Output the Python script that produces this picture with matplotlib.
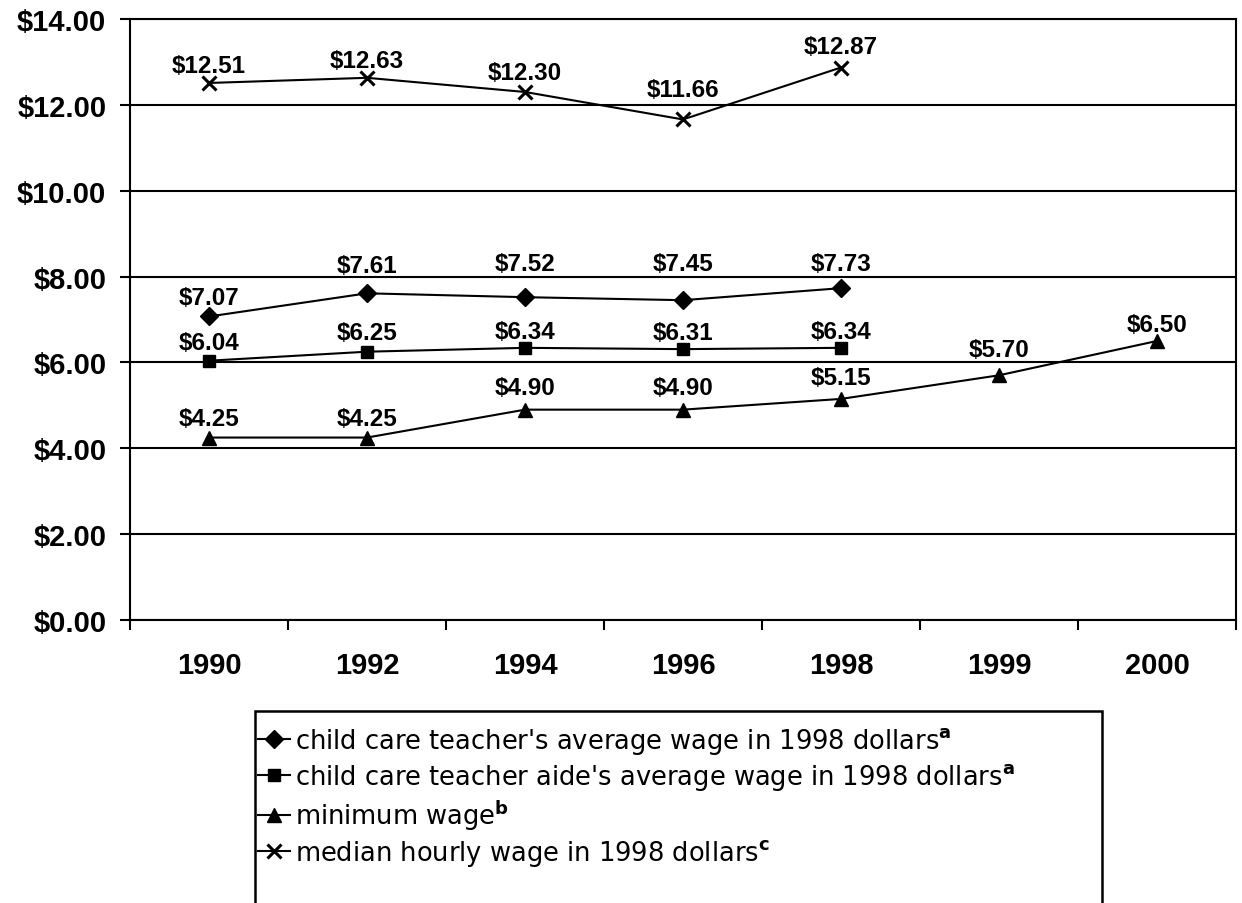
import numpy as np
import matplotlib
matplotlib.use('Agg')
import matplotlib.pyplot as plt
from matplotlib.patches import Rectangle
from matplotlib.ticker import FixedLocator

plt.rcParams['font.family'] = ['Liberation Sans', 'DejaVu Sans']
plt.rcParams['mathtext.fontset'] = 'custom'
plt.rcParams['mathtext.rm'] = 'DejaVu Sans'
plt.rcParams['mathtext.bf'] = 'DejaVu Sans:bold'

# data
years = ['1990', '1992', '1994', '1996', '1998', '1999', '2000']
teacher = [7.07, 7.61, 7.52, 7.45, 7.73, np.nan, np.nan]
aide = [6.04, 6.25, 6.34, 6.31, 6.34, np.nan, np.nan]
min_wage = [4.25, 4.25, 4.90, 4.90, 5.15, 5.70, 6.50]
median = [12.51, 12.63, 12.30, 11.66, 12.87, np.nan, np.nan]
yticks = [0, 2, 4, 6, 8, 10, 12, 14]

# label offsets above each point (pixels)
off_teacher = [12, 21, 27, 30, 18]
off_aide = [12, 13, 10, 10, 10]
off_min = [13, 13, 16, 16, 15, 19, 10]
off_median = [11, 11, 13, 23, 15]

fig = plt.figure(figsize=(12.42, 9.04), dpi=100)
ax = fig.add_axes([130/1242, 1 - 621/904, (1236 - 130)/1242, (621 - 20)/904])

x = np.arange(len(years))
series = [
    (teacher, 'D', 9, off_teacher, "child care teacher's average wage in 1998 dollars" + r'$^{\mathbf{a}}$'),
    (aide, 's', 8.5, off_aide, "child care teacher aide's average wage in 1998 dollars" + r'$^{\mathbf{a}}$'),
    (min_wage, '^', 10, off_min, 'minimum wage' + r'$^{\mathbf{b}}$'),
    (median, 'x', 10, off_median, 'median hourly wage in 1998 dollars' + r'$^{\mathbf{c}}$'),
]
handles = []
for vals, mk, ms, offs, lab in series:
    h, = ax.plot(x, vals, color='black', lw=1.5, marker=mk, ms=ms, mew=2.2 if mk == 'x' else 1,
                 label=lab, zorder=3)
    handles.append(h)
    for i, v in enumerate(vals):
        if np.isnan(v):
            continue
        ax.annotate(f'${v:.2f}', (x[i], v), xytext=(0, offs[i]), textcoords='offset pixels',
                    ha='center', va='baseline', fontsize=17.5, fontweight='bold')

ax.set_xlim(-0.5, len(years) - 0.5)
ax.set_ylim(0, 14)
ax.set_yticks(yticks)
ax.set_yticklabels([f'${t:.2f}' for t in yticks], fontsize=21, fontweight='bold')
ax.set_xticks(x)
ax.set_xticklabels(years, fontsize=21, fontweight='bold')
ax.xaxis.set_minor_locator(FixedLocator(np.arange(-0.5, len(years), 1.0)))
ax.tick_params(axis='x', which='major', length=0, pad=22)
ax.tick_params(axis='x', which='minor', length=7, width=1.5, direction='out')
ax.tick_params(axis='y', length=7, width=1.5, pad=10)
ax.yaxis.grid(True, color='black', lw=1.5)
ax.set_axisbelow(True)
for s in ax.spines.values():
    s.set_linewidth(1.5)

# legend box runs off the bottom of the page
fig.patches.append(Rectangle((255/1242, -0.02), (1102 - 255)/1242, (904 - 712)/904 + 0.02,
                             transform=fig.transFigure, fill=False, lw=1.8, edgecolor='black'))
fig.legend(handles=handles, loc='upper left', bbox_to_anchor=(258/1242, 1 - 726/904),
           frameon=False, prop={'family': 'DejaVu Sans', 'size': 18.5},
           handlelength=1.25, handletextpad=0.2, labelspacing=0.2,
           borderpad=0, borderaxespad=0)

fig.savefig('out.png', dpi=100)
